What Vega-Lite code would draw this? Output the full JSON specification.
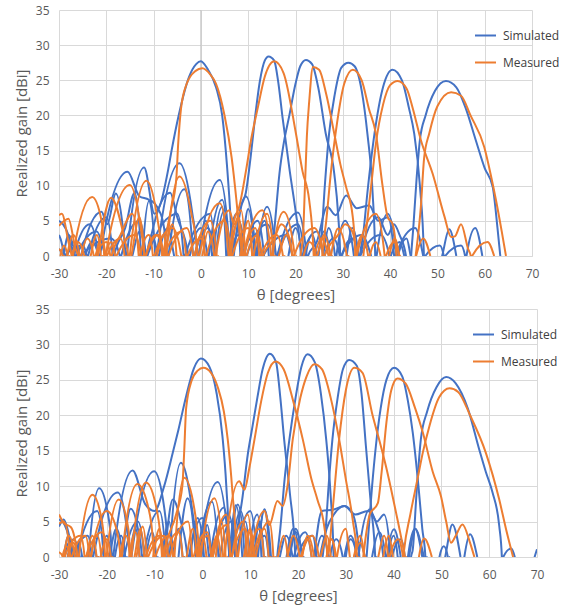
{
"$schema": "https://vega.github.io/schema/vega-lite/v6.json",
"padding": {"left": 14, "top": 4, "right": 5, "bottom": 5},
"config": {"font": "Open Sans", "view": {"stroke": null}},
"spacing": 1,
"resolve": {"scale": {"color": "independent"}, "legend": {"color": "independent"}},
"datasets": {
"tS": [
{"s":1,"x":-30,"y":3},{"s":1,"x":-28.95,"y":0},{"s":1,"x":-28.8,"y":-8},{"s":1,"x":-28.65,"y":0},{"s":1,"x":-26.5,"y":1.2},{"s":1,"x":-25.65,"y":0},{"s":1,"x":-25.5,"y":-8},{"s":1,"x":-25.35,"y":0},{"s":1,"x":-21,"y":6.3},{"s":1,"x":-19.8,"y":4.5},{"s":1,"x":-18,"y":8.9},{"s":1,"x":-16.5,"y":4},{"s":1,"x":-15.95,"y":0},{"s":1,"x":-15.8,"y":-8},{"s":1,"x":-15.65,"y":0},{"s":1,"x":-12,"y":12.6},{"s":1,"x":-9.8,"y":6},{"s":1,"x":-8.5,"y":7.5},{"s":1,"x":-7,"y":12},{"s":1,"x":-6.2,"y":15},{"s":1,"x":-4.7,"y":20},{"s":1,"x":-2.5,"y":25.5},{"s":1,"x":-1,"y":27.3},{"s":1,"x":0,"y":27.7},{"s":1,"x":1.5,"y":26.5},{"s":1,"x":3.2,"y":24},{"s":1,"x":4.5,"y":20},{"s":1,"x":5.5,"y":13},{"s":1,"x":6.3,"y":5},{"s":1,"x":6.65,"y":0},{"s":1,"x":6.8,"y":-8},{"s":1,"x":6.95,"y":0},{"s":1,"x":9.5,"y":8.5},{"s":1,"x":11.65,"y":0},{"s":1,"x":11.8,"y":-8},{"s":1,"x":11.95,"y":0},{"s":1,"x":14,"y":7},{"s":1,"x":15.85,"y":0},{"s":1,"x":16,"y":-8},{"s":1,"x":16.15,"y":0},{"s":1,"x":20.5,"y":6.2},{"s":1,"x":22.35,"y":0},{"s":1,"x":22.5,"y":-8},{"s":1,"x":22.65,"y":0},{"s":1,"x":24.5,"y":2},{"s":1,"x":26.7,"y":7},{"s":1,"x":28.5,"y":5.8},{"s":1,"x":30.7,"y":8.6},{"s":1,"x":33,"y":6.8},{"s":1,"x":35.6,"y":7.2},{"s":1,"x":37.5,"y":5},{"s":1,"x":39.5,"y":5.5},{"s":1,"x":40.85,"y":0},{"s":1,"x":41,"y":-8},{"s":1,"x":41.15,"y":0},{"s":1,"x":45.3,"y":4},{"s":1,"x":47,"y":0},
{"s":2,"x":-30,"y":5},{"s":2,"x":-28.5,"y":3.8},{"s":2,"x":-27.15,"y":0},{"s":2,"x":-27,"y":-8},{"s":2,"x":-26.85,"y":0},{"s":2,"x":-23.5,"y":4.5},{"s":2,"x":-21.65,"y":0},{"s":2,"x":-21.5,"y":-8},{"s":2,"x":-21.35,"y":0},{"s":2,"x":-15.5,"y":12},{"s":2,"x":-13,"y":8.5},{"s":2,"x":-11,"y":8},{"s":2,"x":-9.65,"y":0},{"s":2,"x":-9.5,"y":-8},{"s":2,"x":-9.35,"y":0},{"s":2,"x":-4.5,"y":13.2},{"s":2,"x":-1.8,"y":6},{"s":2,"x":-0.75,"y":0},{"s":2,"x":-0.6,"y":-8},{"s":2,"x":-0.45,"y":0},{"s":2,"x":4,"y":10.8},{"s":2,"x":6.15,"y":0},{"s":2,"x":6.3,"y":-8},{"s":2,"x":6.45,"y":0},{"s":2,"x":7.5,"y":3},{"s":2,"x":8.5,"y":7},{"s":2,"x":9.5,"y":9},{"s":2,"x":10.5,"y":14},{"s":2,"x":11.5,"y":20},{"s":2,"x":12.5,"y":25},{"s":2,"x":13.5,"y":27.8},{"s":2,"x":14.3,"y":28.4},{"s":2,"x":15.5,"y":27.8},{"s":2,"x":16.3,"y":25},{"s":2,"x":17.3,"y":19.5},{"s":2,"x":18.8,"y":12},{"s":2,"x":20.1,"y":6},{"s":2,"x":21.15,"y":0},{"s":2,"x":21.3,"y":-8},{"s":2,"x":21.45,"y":0},{"s":2,"x":24.5,"y":3.5},{"s":2,"x":25.85,"y":0},{"s":2,"x":26,"y":-8},{"s":2,"x":26.15,"y":0},{"s":2,"x":28,"y":2.5},{"s":2,"x":29.35,"y":0},{"s":2,"x":29.5,"y":-8},{"s":2,"x":29.65,"y":0},{"s":2,"x":34,"y":3},{"s":2,"x":36,"y":0},
{"s":3,"x":-30,"y":1},{"s":3,"x":-29.15,"y":0},{"s":3,"x":-29,"y":-8},{"s":3,"x":-28.85,"y":0},{"s":3,"x":-25,"y":1.5},{"s":3,"x":-24.15,"y":0},{"s":3,"x":-24,"y":-8},{"s":3,"x":-23.85,"y":0},{"s":3,"x":-20,"y":5.5},{"s":3,"x":-18.65,"y":0},{"s":3,"x":-18.5,"y":-8},{"s":3,"x":-18.35,"y":0},{"s":3,"x":-16,"y":4},{"s":3,"x":-14,"y":9},{"s":3,"x":-12.65,"y":0},{"s":3,"x":-12.5,"y":-8},{"s":3,"x":-12.35,"y":0},{"s":3,"x":-10.9,"y":7.9},{"s":3,"x":-8.5,"y":6},{"s":3,"x":-7.15,"y":0},{"s":3,"x":-7,"y":-8},{"s":3,"x":-6.85,"y":0},{"s":3,"x":-3.5,"y":9.5},{"s":3,"x":-1.65,"y":0},{"s":3,"x":-1.5,"y":-8},{"s":3,"x":-1.35,"y":0},{"s":3,"x":1.5,"y":4},{"s":3,"x":2.85,"y":0},{"s":3,"x":3,"y":-8},{"s":3,"x":3.15,"y":0},{"s":3,"x":5,"y":6.5},{"s":3,"x":5.85,"y":0},{"s":3,"x":6,"y":-8},{"s":3,"x":6.15,"y":0},{"s":3,"x":8,"y":3},{"s":3,"x":8.85,"y":0},{"s":3,"x":9,"y":-8},{"s":3,"x":9.15,"y":0},{"s":3,"x":12,"y":5},{"s":3,"x":13.35,"y":0},{"s":3,"x":14.2,"y":-8},{"s":3,"x":15.05,"y":0},{"s":3,"x":15.7,"y":5},{"s":3,"x":16.6,"y":11.7},{"s":3,"x":17.5,"y":16},{"s":3,"x":18.7,"y":20},{"s":3,"x":20,"y":24.5},{"s":3,"x":21,"y":27},{"s":3,"x":22.2,"y":27.9},{"s":3,"x":23.5,"y":27.3},{"s":3,"x":24.8,"y":24},{"s":3,"x":26.4,"y":17.4},{"s":3,"x":28.2,"y":11.7},{"s":3,"x":29,"y":6},{"s":3,"x":29.45,"y":0},{"s":3,"x":29.6,"y":-8},{"s":3,"x":29.75,"y":0},{"s":3,"x":32,"y":2.5},{"s":3,"x":33.35,"y":0},{"s":3,"x":33.5,"y":-8},{"s":3,"x":33.65,"y":0},{"s":3,"x":38,"y":3},{"s":3,"x":39.85,"y":0},{"s":3,"x":40,"y":-8},{"s":3,"x":40.15,"y":0},{"s":3,"x":42,"y":2},{"s":3,"x":43,"y":0},
{"s":4,"x":-28.3,"y":0},{"s":4,"x":-27,"y":2},{"s":4,"x":-25.65,"y":0},{"s":4,"x":-25.5,"y":-8},{"s":4,"x":-25.35,"y":0},{"s":4,"x":-19,"y":2.5},{"s":4,"x":-17.15,"y":0},{"s":4,"x":-17,"y":-8},{"s":4,"x":-16.85,"y":0},{"s":4,"x":-13,"y":5},{"s":4,"x":-11.65,"y":0},{"s":4,"x":-11.5,"y":-8},{"s":4,"x":-11.35,"y":0},{"s":4,"x":-6.5,"y":9},{"s":4,"x":-5,"y":5.5},{"s":4,"x":-2.65,"y":0},{"s":4,"x":-2.5,"y":-8},{"s":4,"x":-2.35,"y":0},{"s":4,"x":0,"y":4},{"s":4,"x":1.35,"y":0},{"s":4,"x":1.5,"y":-8},{"s":4,"x":1.65,"y":0},{"s":4,"x":4.5,"y":8},{"s":4,"x":5.85,"y":0},{"s":4,"x":6,"y":-8},{"s":4,"x":6.15,"y":0},{"s":4,"x":8,"y":5},{"s":4,"x":9.35,"y":0},{"s":4,"x":9.5,"y":-8},{"s":4,"x":9.65,"y":0},{"s":4,"x":14,"y":4.5},{"s":4,"x":15.85,"y":0},{"s":4,"x":16,"y":-8},{"s":4,"x":16.15,"y":0},{"s":4,"x":20.5,"y":4.5},{"s":4,"x":21.85,"y":0},{"s":4,"x":22,"y":-8},{"s":4,"x":22.15,"y":0},{"s":4,"x":23.5,"y":3},{"s":4,"x":24.55,"y":0},{"s":4,"x":24.7,"y":-8},{"s":4,"x":24.85,"y":0},{"s":4,"x":25.5,"y":3},{"s":4,"x":26.2,"y":10},{"s":4,"x":27.1,"y":17.4},{"s":4,"x":28.3,"y":23},{"s":4,"x":29.7,"y":26.8},{"s":4,"x":31.2,"y":27.5},{"s":4,"x":32.5,"y":27},{"s":4,"x":34,"y":23.5},{"s":4,"x":35.2,"y":17.4},{"s":4,"x":36.3,"y":9},{"s":4,"x":36.85,"y":0},{"s":4,"x":37,"y":-8},{"s":4,"x":37.15,"y":0},{"s":4,"x":39.5,"y":6},{"s":4,"x":41.35,"y":0},{"s":4,"x":41.5,"y":-8},{"s":4,"x":41.65,"y":0},{"s":4,"x":43.5,"y":2.5},{"s":4,"x":44.35,"y":0},{"s":4,"x":47.8,"y":-8},{"s":4,"x":51,"y":0},{"s":4,"x":52.5,"y":3.8},{"s":4,"x":54,"y":0},
{"s":5,"x":-29,"y":0},{"s":5,"x":-28,"y":3},{"s":5,"x":-26.65,"y":0},{"s":5,"x":-26.5,"y":-8},{"s":5,"x":-26.35,"y":0},{"s":5,"x":-22,"y":3.5},{"s":5,"x":-20.15,"y":0},{"s":5,"x":-15,"y":-8},{"s":5,"x":-11.5,"y":0},{"s":5,"x":-10.5,"y":3},{"s":5,"x":-9.15,"y":0},{"s":5,"x":-9,"y":-8},{"s":5,"x":-8.85,"y":0},{"s":5,"x":-7,"y":4},{"s":5,"x":-5.65,"y":0},{"s":5,"x":-3,"y":-8},{"s":5,"x":-0.5,"y":0},{"s":5,"x":1,"y":5},{"s":5,"x":2.35,"y":0},{"s":5,"x":2.5,"y":-8},{"s":5,"x":2.65,"y":0},{"s":5,"x":4.5,"y":7},{"s":5,"x":5.35,"y":0},{"s":5,"x":5.5,"y":-8},{"s":5,"x":5.65,"y":0},{"s":5,"x":7.5,"y":6},{"s":5,"x":8.35,"y":0},{"s":5,"x":8.5,"y":-8},{"s":5,"x":8.65,"y":0},{"s":5,"x":11.5,"y":3},{"s":5,"x":12.85,"y":0},{"s":5,"x":13,"y":-8},{"s":5,"x":13.15,"y":0},{"s":5,"x":18,"y":3},{"s":5,"x":19.35,"y":0},{"s":5,"x":23,"y":-8},{"s":5,"x":25.8,"y":0},{"s":5,"x":27,"y":4},{"s":5,"x":28.35,"y":0},{"s":5,"x":28.5,"y":-8},{"s":5,"x":28.65,"y":0},{"s":5,"x":30.5,"y":5},{"s":5,"x":32.35,"y":0},{"s":5,"x":33,"y":-8},{"s":5,"x":33.65,"y":0},{"s":5,"x":34.3,"y":3},{"s":5,"x":35.2,"y":9},{"s":5,"x":36.7,"y":17.4},{"s":5,"x":38.5,"y":24},{"s":5,"x":40.5,"y":26.5},{"s":5,"x":42.5,"y":25},{"s":5,"x":44,"y":21},{"s":5,"x":45.1,"y":17.4},{"s":5,"x":46.3,"y":10},{"s":5,"x":47.15,"y":0},{"s":5,"x":47.3,"y":-8},{"s":5,"x":47.45,"y":0},{"s":5,"x":50.5,"y":1.5},{"s":5,"x":51.35,"y":0},{"s":5,"x":51.5,"y":-8},{"s":5,"x":51.65,"y":0},{"s":5,"x":55,"y":1.5},{"s":5,"x":55.85,"y":0},{"s":5,"x":56,"y":-8},{"s":5,"x":56.15,"y":0},{"s":5,"x":58,"y":4},{"s":5,"x":59.5,"y":0},
{"s":6,"x":-24.5,"y":0},{"s":6,"x":-23,"y":2},{"s":6,"x":-21.65,"y":0},{"s":6,"x":-21.5,"y":-8},{"s":6,"x":-21.35,"y":0},{"s":6,"x":-17.5,"y":-8},{"s":6,"x":-14.5,"y":0},{"s":6,"x":-13,"y":3.5},{"s":6,"x":-11.65,"y":0},{"s":6,"x":-11.5,"y":-8},{"s":6,"x":-11.35,"y":0},{"s":6,"x":-5,"y":6},{"s":6,"x":-3.65,"y":0},{"s":6,"x":-3.5,"y":-8},{"s":6,"x":-3.35,"y":0},{"s":6,"x":2,"y":6},{"s":6,"x":2.85,"y":0},{"s":6,"x":3,"y":-8},{"s":6,"x":3.15,"y":0},{"s":6,"x":6,"y":-8},{"s":6,"x":8.5,"y":0},{"s":6,"x":10,"y":6.7},{"s":6,"x":11.35,"y":0},{"s":6,"x":11.5,"y":-8},{"s":6,"x":11.65,"y":0},{"s":6,"x":13.5,"y":5},{"s":6,"x":14.35,"y":0},{"s":6,"x":14.5,"y":-8},{"s":6,"x":14.65,"y":0},{"s":6,"x":17,"y":-8},{"s":6,"x":18.5,"y":0},{"s":6,"x":20,"y":4},{"s":6,"x":21.35,"y":0},{"s":6,"x":21.5,"y":-8},{"s":6,"x":21.65,"y":0},{"s":6,"x":23.5,"y":-8},{"s":6,"x":24.8,"y":0},{"s":6,"x":26,"y":3.5},{"s":6,"x":27.35,"y":0},{"s":6,"x":27.5,"y":-8},{"s":6,"x":27.65,"y":0},{"s":6,"x":29.5,"y":-8},{"s":6,"x":30.8,"y":0},{"s":6,"x":32,"y":4},{"s":6,"x":33.35,"y":0},{"s":6,"x":33.5,"y":-8},{"s":6,"x":33.65,"y":0},{"s":6,"x":37.5,"y":5.5},{"s":6,"x":39.5,"y":3},{"s":6,"x":40.8,"y":4.5},{"s":6,"x":42,"y":3},{"s":6,"x":43.35,"y":0},{"s":6,"x":43.9,"y":-8},{"s":6,"x":44.45,"y":0},{"s":6,"x":44.9,"y":4},{"s":6,"x":45.6,"y":11},{"s":6,"x":46.3,"y":16.5},{"s":6,"x":47.5,"y":20},{"s":6,"x":49.5,"y":23.5},{"s":6,"x":51.8,"y":24.9},{"s":6,"x":54,"y":24},{"s":6,"x":56,"y":21},{"s":6,"x":58.1,"y":16.5},{"s":6,"x":60,"y":12.5},{"s":6,"x":61.7,"y":9.8},{"s":6,"x":62.7,"y":4},{"s":6,"x":63.3,"y":0}
],
"tM": [
{"s":1,"x":-30,"y":4.3},{"s":1,"x":-28,"y":5.3},{"s":1,"x":-26.5,"y":1},{"s":1,"x":-25.95,"y":0},{"s":1,"x":-25.8,"y":-8},{"s":1,"x":-25.65,"y":0},{"s":1,"x":-23.5,"y":-8},{"s":1,"x":-21.8,"y":0},{"s":1,"x":-19,"y":8.3},{"s":1,"x":-16,"y":2},{"s":1,"x":-15.35,"y":0},{"s":1,"x":-15.2,"y":-8},{"s":1,"x":-15.05,"y":0},{"s":1,"x":-11.5,"y":10.7},{"s":1,"x":-9,"y":4.5},{"s":1,"x":-8.15,"y":0},{"s":1,"x":-8,"y":-8},{"s":1,"x":-7.85,"y":0},{"s":1,"x":-6.5,"y":6},{"s":1,"x":-5.2,"y":11},{"s":1,"x":-4.8,"y":16},{"s":1,"x":-4.2,"y":21},{"s":1,"x":-3,"y":24.5},{"s":1,"x":-1.2,"y":26.3},{"s":1,"x":0.3,"y":26.7},{"s":1,"x":2,"y":25.8},{"s":1,"x":3.2,"y":24.5},{"s":1,"x":5,"y":20},{"s":1,"x":6.5,"y":14},{"s":1,"x":7.5,"y":8},{"s":1,"x":8.2,"y":3},{"s":1,"x":8.65,"y":0},{"s":1,"x":8.8,"y":-8},{"s":1,"x":8.95,"y":0},{"s":1,"x":13,"y":6.5},{"s":1,"x":14.85,"y":0},{"s":1,"x":15,"y":-8},{"s":1,"x":15.15,"y":0},{"s":1,"x":17.5,"y":6.3},{"s":1,"x":19.85,"y":0},{"s":1,"x":20,"y":-8},{"s":1,"x":20.15,"y":0},{"s":1,"x":22,"y":-8},{"s":1,"x":24,"y":0},{"s":1,"x":25.5,"y":2.5},{"s":1,"x":27,"y":0},
{"s":2,"x":-30,"y":5.8},{"s":2,"x":-29.4,"y":6},{"s":2,"x":-28,"y":2},{"s":2,"x":-27.35,"y":0},{"s":2,"x":-27.2,"y":-8},{"s":2,"x":-27.05,"y":0},{"s":2,"x":-23,"y":8.4},{"s":2,"x":-21,"y":5},{"s":2,"x":-20.45,"y":0},{"s":2,"x":-20.3,"y":-8},{"s":2,"x":-20.15,"y":0},{"s":2,"x":-15,"y":10.1},{"s":2,"x":-12.5,"y":3},{"s":2,"x":-11.95,"y":0},{"s":2,"x":-11.8,"y":-8},{"s":2,"x":-11.65,"y":0},{"s":2,"x":-9.5,"y":3},{"s":2,"x":-7.65,"y":0},{"s":2,"x":-7.5,"y":-8},{"s":2,"x":-7.35,"y":0},{"s":2,"x":-4.5,"y":11.3},{"s":2,"x":-2,"y":6},{"s":2,"x":-0.65,"y":0},{"s":2,"x":-0.5,"y":-8},{"s":2,"x":-0.35,"y":0},{"s":2,"x":4,"y":7.5},{"s":2,"x":5.85,"y":0},{"s":2,"x":6,"y":-8},{"s":2,"x":6.15,"y":0},{"s":2,"x":7,"y":5},{"s":2,"x":8.1,"y":7},{"s":2,"x":9.5,"y":12},{"s":2,"x":10.6,"y":16.5},{"s":2,"x":12,"y":21},{"s":2,"x":13.5,"y":25.5},{"s":2,"x":15.5,"y":27.7},{"s":2,"x":17.5,"y":26},{"s":2,"x":20.1,"y":17.4},{"s":2,"x":21.5,"y":12},{"s":2,"x":22.9,"y":7.9},{"s":2,"x":23.85,"y":0},{"s":2,"x":24,"y":-8},{"s":2,"x":24.15,"y":0},{"s":2,"x":26,"y":-8},{"s":2,"x":27.5,"y":0},{"s":2,"x":29,"y":3.9},{"s":2,"x":30.85,"y":0},{"s":2,"x":31,"y":-8},{"s":2,"x":31.15,"y":0},{"s":2,"x":34,"y":-8},{"s":2,"x":35.7,"y":0},{"s":2,"x":37,"y":2},{"s":2,"x":38,"y":0},
{"s":3,"x":-30,"y":1},{"s":3,"x":-29.15,"y":0},{"s":3,"x":-29,"y":-8},{"s":3,"x":-28.85,"y":0},{"s":3,"x":-27,"y":-8},{"s":3,"x":-25.3,"y":0},{"s":3,"x":-24,"y":2.5},{"s":3,"x":-22.65,"y":0},{"s":3,"x":-22.5,"y":-8},{"s":3,"x":-22.35,"y":0},{"s":3,"x":-20,"y":2},{"s":3,"x":-19.15,"y":0},{"s":3,"x":-19,"y":-8},{"s":3,"x":-18.85,"y":0},{"s":3,"x":-17,"y":3},{"s":3,"x":-14.5,"y":6},{"s":3,"x":-13.15,"y":0},{"s":3,"x":-13,"y":-8},{"s":3,"x":-12.85,"y":0},{"s":3,"x":-11,"y":3},{"s":3,"x":-10.15,"y":0},{"s":3,"x":-10,"y":-8},{"s":3,"x":-9.85,"y":0},{"s":3,"x":-6,"y":4},{"s":3,"x":-4.15,"y":0},{"s":3,"x":-4,"y":-8},{"s":3,"x":-3.85,"y":0},{"s":3,"x":-1.5,"y":-8},{"s":3,"x":0.3,"y":0},{"s":3,"x":1.5,"y":3.5},{"s":3,"x":2.85,"y":0},{"s":3,"x":3,"y":-8},{"s":3,"x":3.15,"y":0},{"s":3,"x":6,"y":6.5},{"s":3,"x":7,"y":4.5},{"s":3,"x":8.5,"y":6.5},{"s":3,"x":9.35,"y":0},{"s":3,"x":9.5,"y":-8},{"s":3,"x":9.65,"y":0},{"s":3,"x":12,"y":3},{"s":3,"x":12.85,"y":0},{"s":3,"x":13,"y":-8},{"s":3,"x":13.15,"y":0},{"s":3,"x":15.5,"y":2.5},{"s":3,"x":17,"y":4.5},{"s":3,"x":18.5,"y":3},{"s":3,"x":19.35,"y":0},{"s":3,"x":20.2,"y":-8},{"s":3,"x":21.05,"y":0},{"s":3,"x":21.6,"y":3},{"s":3,"x":22,"y":10},{"s":3,"x":22.4,"y":17},{"s":3,"x":22.9,"y":22},{"s":3,"x":23.7,"y":26.9},{"s":3,"x":25,"y":26.5},{"s":3,"x":26.5,"y":23},{"s":3,"x":28.2,"y":17.4},{"s":3,"x":29.5,"y":13},{"s":3,"x":30.7,"y":9.8},{"s":3,"x":32.1,"y":5.6},{"s":3,"x":32.65,"y":0},{"s":3,"x":32.8,"y":-8},{"s":3,"x":32.95,"y":0},{"s":3,"x":37,"y":6},{"s":3,"x":38.85,"y":0},{"s":3,"x":39,"y":-8},{"s":3,"x":39.15,"y":0},{"s":3,"x":41,"y":2},{"s":3,"x":42,"y":0},
{"s":4,"x":-28.3,"y":0},{"s":4,"x":-27,"y":3},{"s":4,"x":-25.65,"y":0},{"s":4,"x":-25.5,"y":-8},{"s":4,"x":-25.35,"y":0},{"s":4,"x":-23.5,"y":-8},{"s":4,"x":-22.2,"y":0},{"s":4,"x":-21,"y":2.5},{"s":4,"x":-20.15,"y":0},{"s":4,"x":-20,"y":-8},{"s":4,"x":-19.85,"y":0},{"s":4,"x":-17,"y":2.5},{"s":4,"x":-16.15,"y":0},{"s":4,"x":-16,"y":-8},{"s":4,"x":-15.85,"y":0},{"s":4,"x":-12,"y":-8},{"s":4,"x":-9.3,"y":0},{"s":4,"x":-8,"y":3},{"s":4,"x":-7.15,"y":0},{"s":4,"x":-7,"y":-8},{"s":4,"x":-6.85,"y":0},{"s":4,"x":-3,"y":4},{"s":4,"x":-1.65,"y":0},{"s":4,"x":-1.5,"y":-8},{"s":4,"x":-1.35,"y":0},{"s":4,"x":2,"y":5},{"s":4,"x":3.35,"y":0},{"s":4,"x":3.5,"y":-8},{"s":4,"x":3.65,"y":0},{"s":4,"x":5,"y":-8},{"s":4,"x":6.3,"y":0},{"s":4,"x":8,"y":5.5},{"s":4,"x":8.85,"y":0},{"s":4,"x":9,"y":-8},{"s":4,"x":9.15,"y":0},{"s":4,"x":11.5,"y":4},{"s":4,"x":12.35,"y":0},{"s":4,"x":12.5,"y":-8},{"s":4,"x":12.65,"y":0},{"s":4,"x":16,"y":3},{"s":4,"x":17.35,"y":0},{"s":4,"x":17.5,"y":-8},{"s":4,"x":17.65,"y":0},{"s":4,"x":20,"y":-8},{"s":4,"x":21.7,"y":0},{"s":4,"x":23,"y":2},{"s":4,"x":24.35,"y":0},{"s":4,"x":25,"y":-8},{"s":4,"x":25.65,"y":0},{"s":4,"x":26.5,"y":5},{"s":4,"x":27.5,"y":12},{"s":4,"x":28.8,"y":19},{"s":4,"x":30.3,"y":24.5},{"s":4,"x":32.1,"y":26.5},{"s":4,"x":34,"y":25},{"s":4,"x":35.5,"y":21},{"s":4,"x":37,"y":17.4},{"s":4,"x":38.4,"y":10},{"s":4,"x":39.5,"y":5.5},{"s":4,"x":40.5,"y":4.6},{"s":4,"x":41.35,"y":0},{"s":4,"x":41.5,"y":-8},{"s":4,"x":41.65,"y":0},{"s":4,"x":43.5,"y":-8},{"s":4,"x":45.5,"y":0},{"s":4,"x":47,"y":2.5},{"s":4,"x":48.5,"y":0},
{"s":5,"x":-27.3,"y":0},{"s":5,"x":-26,"y":2},{"s":5,"x":-24.65,"y":0},{"s":5,"x":-24.5,"y":-8},{"s":5,"x":-24.35,"y":0},{"s":5,"x":-22,"y":-8},{"s":5,"x":-20.2,"y":0},{"s":5,"x":-19,"y":2},{"s":5,"x":-18.15,"y":0},{"s":5,"x":-18,"y":-8},{"s":5,"x":-17.85,"y":0},{"s":5,"x":-14,"y":3},{"s":5,"x":-12.65,"y":0},{"s":5,"x":-12.5,"y":-8},{"s":5,"x":-12.35,"y":0},{"s":5,"x":-10,"y":-8},{"s":5,"x":-7.7,"y":0},{"s":5,"x":-6,"y":4.5},{"s":5,"x":-5.15,"y":0},{"s":5,"x":-5,"y":-8},{"s":5,"x":-4.85,"y":0},{"s":5,"x":-3,"y":-8},{"s":5,"x":-1.3,"y":0},{"s":5,"x":0,"y":3},{"s":5,"x":0.85,"y":0},{"s":5,"x":1,"y":-8},{"s":5,"x":1.15,"y":0},{"s":5,"x":5,"y":5},{"s":5,"x":6.35,"y":0},{"s":5,"x":6.5,"y":-8},{"s":5,"x":6.65,"y":0},{"s":5,"x":10,"y":4},{"s":5,"x":10.85,"y":0},{"s":5,"x":11,"y":-8},{"s":5,"x":11.15,"y":0},{"s":5,"x":14,"y":-8},{"s":5,"x":16.5,"y":0},{"s":5,"x":18,"y":3},{"s":5,"x":19.35,"y":0},{"s":5,"x":19.5,"y":-8},{"s":5,"x":19.65,"y":0},{"s":5,"x":24,"y":4},{"s":5,"x":25.85,"y":0},{"s":5,"x":26,"y":-8},{"s":5,"x":26.15,"y":0},{"s":5,"x":29,"y":3},{"s":5,"x":30.5,"y":4.5},{"s":5,"x":32,"y":3.5},{"s":5,"x":32.85,"y":0},{"s":5,"x":33.6,"y":-8},{"s":5,"x":34.35,"y":0},{"s":5,"x":35,"y":4},{"s":5,"x":36,"y":10},{"s":5,"x":37,"y":16},{"s":5,"x":38.5,"y":21.5},{"s":5,"x":40,"y":24.3},{"s":5,"x":41.6,"y":24.9},{"s":5,"x":43.5,"y":23.8},{"s":5,"x":44.8,"y":21},{"s":5,"x":46.5,"y":16.5},{"s":5,"x":49,"y":11.7},{"s":5,"x":51.5,"y":5.6},{"s":5,"x":52.9,"y":2.7},{"s":5,"x":53.7,"y":2.8},{"s":5,"x":55,"y":4.5},{"s":5,"x":56.5,"y":1},{"s":5,"x":57.05,"y":0},{"s":5,"x":57.2,"y":-8},{"s":5,"x":57.35,"y":0},{"s":5,"x":60.6,"y":2},{"s":5,"x":62,"y":0},
{"s":6,"x":-29.7,"y":0},{"s":6,"x":-29,"y":1.5},{"s":6,"x":-28.15,"y":0},{"s":6,"x":-28,"y":-8},{"s":6,"x":-27.85,"y":0},{"s":6,"x":-25,"y":-8},{"s":6,"x":-23.3,"y":0},{"s":6,"x":-22,"y":3},{"s":6,"x":-21.15,"y":0},{"s":6,"x":-21,"y":-8},{"s":6,"x":-20.85,"y":0},{"s":6,"x":-17,"y":-8},{"s":6,"x":-14.7,"y":0},{"s":6,"x":-13,"y":5.5},{"s":6,"x":-11.95,"y":0},{"s":6,"x":-11.8,"y":-8},{"s":6,"x":-11.65,"y":0},{"s":6,"x":-9,"y":3},{"s":6,"x":-8.15,"y":0},{"s":6,"x":-8,"y":-8},{"s":6,"x":-7.85,"y":0},{"s":6,"x":-4,"y":3.5},{"s":6,"x":-3.15,"y":0},{"s":6,"x":-3,"y":-8},{"s":6,"x":-2.85,"y":0},{"s":6,"x":0,"y":2.5},{"s":6,"x":0.85,"y":0},{"s":6,"x":1,"y":-8},{"s":6,"x":1.15,"y":0},{"s":6,"x":5,"y":-8},{"s":6,"x":8.3,"y":0},{"s":6,"x":10,"y":5},{"s":6,"x":10.85,"y":0},{"s":6,"x":11,"y":-8},{"s":6,"x":11.15,"y":0},{"s":6,"x":14,"y":6},{"s":6,"x":15.35,"y":0},{"s":6,"x":15.5,"y":-8},{"s":6,"x":15.65,"y":0},{"s":6,"x":20,"y":-8},{"s":6,"x":24.6,"y":0},{"s":6,"x":26,"y":3},{"s":6,"x":27.35,"y":0},{"s":6,"x":27.5,"y":-8},{"s":6,"x":27.65,"y":0},{"s":6,"x":30,"y":-8},{"s":6,"x":32.6,"y":0},{"s":6,"x":34,"y":3},{"s":6,"x":35.35,"y":0},{"s":6,"x":35.5,"y":-8},{"s":6,"x":35.65,"y":0},{"s":6,"x":38,"y":-8},{"s":6,"x":39.8,"y":0},{"s":6,"x":41,"y":2.5},{"s":6,"x":41.85,"y":0},{"s":6,"x":42,"y":-8},{"s":6,"x":42.15,"y":0},{"s":6,"x":43.5,"y":-8},{"s":6,"x":45.4,"y":0},{"s":6,"x":46.5,"y":7},{"s":6,"x":47.2,"y":14},{"s":6,"x":48.3,"y":17.5},{"s":6,"x":50,"y":21.3},{"s":6,"x":52.9,"y":23.3},{"s":6,"x":55,"y":22.8},{"s":6,"x":57,"y":20},{"s":6,"x":59.9,"y":15.5},{"s":6,"x":61.3,"y":11.5},{"s":6,"x":62.4,"y":7.9},{"s":6,"x":63.6,"y":3.5},{"s":6,"x":64.5,"y":0}
],
"bS": [
{"s":1,"x":-30,"y":4.3},{"s":1,"x":-29,"y":5.3},{"s":1,"x":-27.5,"y":2},{"s":1,"x":-26.65,"y":0},{"s":1,"x":-26.5,"y":-8},{"s":1,"x":-26.35,"y":0},{"s":1,"x":-24.5,"y":-8},{"s":1,"x":-23.8,"y":0},{"s":1,"x":-21.6,"y":9.7},{"s":1,"x":-19.5,"y":5},{"s":1,"x":-18.95,"y":0},{"s":1,"x":-18.8,"y":-8},{"s":1,"x":-18.65,"y":0},{"s":1,"x":-14.6,"y":12.2},{"s":1,"x":-12,"y":7.5},{"s":1,"x":-10,"y":6.5},{"s":1,"x":-8,"y":10},{"s":1,"x":-6.2,"y":14.7},{"s":1,"x":-5,"y":18},{"s":1,"x":-3.4,"y":22.7},{"s":1,"x":-1.8,"y":26.6},{"s":1,"x":-0.3,"y":28},{"s":1,"x":1.5,"y":26.8},{"s":1,"x":3,"y":23},{"s":1,"x":4.2,"y":17},{"s":1,"x":5,"y":10},{"s":1,"x":5.65,"y":0},{"s":1,"x":5.8,"y":-8},{"s":1,"x":5.95,"y":0},{"s":1,"x":7.4,"y":7.4},{"s":1,"x":8.85,"y":0},{"s":1,"x":9,"y":-8},{"s":1,"x":9.15,"y":0},{"s":1,"x":10.5,"y":-8},{"s":1,"x":11.5,"y":0},{"s":1,"x":13,"y":6.7},{"s":1,"x":14.35,"y":0},{"s":1,"x":14.5,"y":-8},{"s":1,"x":14.65,"y":0},{"s":1,"x":17,"y":-8},{"s":1,"x":18.3,"y":0},{"s":1,"x":19.6,"y":3.5},{"s":1,"x":20.85,"y":0},{"s":1,"x":21,"y":-8},{"s":1,"x":21.15,"y":0},{"s":1,"x":22.3,"y":-8},{"s":1,"x":23.4,"y":0},{"s":1,"x":25,"y":6.5},{"s":1,"x":27.5,"y":6.7},{"s":1,"x":29.7,"y":7.2},{"s":1,"x":32,"y":6},{"s":1,"x":34.6,"y":6.5},{"s":1,"x":36.5,"y":4.5},{"s":1,"x":37.85,"y":0},{"s":1,"x":38,"y":-8},{"s":1,"x":38.15,"y":0},{"s":1,"x":41,"y":-8},{"s":1,"x":43.2,"y":0},{"s":1,"x":44.5,"y":4},{"s":1,"x":46,"y":0},
{"s":2,"x":-30,"y":5.3},{"s":2,"x":-28.8,"y":4.5},{"s":2,"x":-27.35,"y":0},{"s":2,"x":-27.2,"y":-8},{"s":2,"x":-27.05,"y":0},{"s":2,"x":-24,"y":3},{"s":2,"x":-23.15,"y":0},{"s":2,"x":-23,"y":-8},{"s":2,"x":-22.85,"y":0},{"s":2,"x":-17.7,"y":9.1},{"s":2,"x":-16,"y":5},{"s":2,"x":-15.15,"y":0},{"s":2,"x":-15,"y":-8},{"s":2,"x":-14.85,"y":0},{"s":2,"x":-10.1,"y":12.1},{"s":2,"x":-8,"y":7},{"s":2,"x":-7.15,"y":0},{"s":2,"x":-7,"y":-8},{"s":2,"x":-6.85,"y":0},{"s":2,"x":-4.5,"y":13.3},{"s":2,"x":-2,"y":6},{"s":2,"x":-0.95,"y":0},{"s":2,"x":-0.8,"y":-8},{"s":2,"x":-0.65,"y":0},{"s":2,"x":3.2,"y":10.6},{"s":2,"x":5.65,"y":0},{"s":2,"x":5.8,"y":-8},{"s":2,"x":5.95,"y":0},{"s":2,"x":7.3,"y":4},{"s":2,"x":8.3,"y":8},{"s":2,"x":9.5,"y":14.5},{"s":2,"x":10.5,"y":18.5},{"s":2,"x":11.5,"y":22.5},{"s":2,"x":12.6,"y":26.5},{"s":2,"x":14.1,"y":28.7},{"s":2,"x":15.4,"y":27.5},{"s":2,"x":16.3,"y":22.5},{"s":2,"x":17.1,"y":16.6},{"s":2,"x":18.3,"y":9},{"s":2,"x":19.45,"y":0},{"s":2,"x":19.6,"y":-8},{"s":2,"x":19.75,"y":0},{"s":2,"x":23,"y":3},{"s":2,"x":23.85,"y":0},{"s":2,"x":24,"y":-8},{"s":2,"x":24.15,"y":0},{"s":2,"x":25.5,"y":-8},{"s":2,"x":26.7,"y":0},{"s":2,"x":28,"y":2.5},{"s":2,"x":29.35,"y":0},{"s":2,"x":29.5,"y":-8},{"s":2,"x":29.65,"y":0},{"s":2,"x":31,"y":-8},{"s":2,"x":31.9,"y":0},{"s":2,"x":33,"y":2},{"s":2,"x":34,"y":0},
{"s":3,"x":-28.8,"y":0},{"s":3,"x":-28,"y":2},{"s":3,"x":-26.65,"y":0},{"s":3,"x":-26.5,"y":-8},{"s":3,"x":-26.35,"y":0},{"s":3,"x":-22,"y":6.5},{"s":3,"x":-20.65,"y":0},{"s":3,"x":-20.5,"y":-8},{"s":3,"x":-20.35,"y":0},{"s":3,"x":-18.5,"y":-8},{"s":3,"x":-16.8,"y":0},{"s":3,"x":-15,"y":6.8},{"s":3,"x":-13.5,"y":4},{"s":3,"x":-12.65,"y":0},{"s":3,"x":-12.5,"y":-8},{"s":3,"x":-12.35,"y":0},{"s":3,"x":-9,"y":6.5},{"s":3,"x":-7.65,"y":0},{"s":3,"x":-7.5,"y":-8},{"s":3,"x":-7.35,"y":0},{"s":3,"x":-6,"y":-8},{"s":3,"x":-5,"y":0},{"s":3,"x":-3.1,"y":8.3},{"s":3,"x":-1.35,"y":0},{"s":3,"x":-1.2,"y":-8},{"s":3,"x":-1.05,"y":0},{"s":3,"x":2,"y":7.8},{"s":3,"x":3.35,"y":0},{"s":3,"x":3.5,"y":-8},{"s":3,"x":3.65,"y":0},{"s":3,"x":6,"y":5},{"s":3,"x":6.85,"y":0},{"s":3,"x":7,"y":-8},{"s":3,"x":7.15,"y":0},{"s":3,"x":10,"y":6.5},{"s":3,"x":11.35,"y":0},{"s":3,"x":11.5,"y":-8},{"s":3,"x":11.65,"y":0},{"s":3,"x":13,"y":6.7},{"s":3,"x":14.15,"y":0},{"s":3,"x":14.9,"y":-8},{"s":3,"x":15.65,"y":0},{"s":3,"x":16.3,"y":4},{"s":3,"x":17.2,"y":11},{"s":3,"x":18.2,"y":16.6},{"s":3,"x":19.5,"y":22.5},{"s":3,"x":20.7,"y":26.8},{"s":3,"x":22,"y":28.6},{"s":3,"x":23.5,"y":27.5},{"s":3,"x":24.8,"y":23},{"s":3,"x":25.9,"y":16.6},{"s":3,"x":26.8,"y":9},{"s":3,"x":27.45,"y":0},{"s":3,"x":27.6,"y":-8},{"s":3,"x":27.75,"y":0},{"s":3,"x":29,"y":-8},{"s":3,"x":30,"y":0},{"s":3,"x":31,"y":2.5},{"s":3,"x":32.35,"y":0},{"s":3,"x":32.5,"y":-8},{"s":3,"x":32.65,"y":0},{"s":3,"x":34,"y":-8},{"s":3,"x":35.5,"y":0},{"s":3,"x":37,"y":3.5},{"s":3,"x":38.35,"y":0},{"s":3,"x":38.5,"y":-8},{"s":3,"x":38.65,"y":0},{"s":3,"x":40.1,"y":3.9},{"s":3,"x":41.5,"y":0},
{"s":4,"x":-28.2,"y":0},{"s":4,"x":-27,"y":2.5},{"s":4,"x":-25.65,"y":0},{"s":4,"x":-25.5,"y":-8},{"s":4,"x":-25.35,"y":0},{"s":4,"x":-22,"y":-8},{"s":4,"x":-19.5,"y":0},{"s":4,"x":-18,"y":4},{"s":4,"x":-16.65,"y":0},{"s":4,"x":-16.5,"y":-8},{"s":4,"x":-16.35,"y":0},{"s":4,"x":-13.5,"y":5},{"s":4,"x":-12.15,"y":0},{"s":4,"x":-12,"y":-8},{"s":4,"x":-11.85,"y":0},{"s":4,"x":-9.5,"y":-8},{"s":4,"x":-8,"y":0},{"s":4,"x":-6.2,"y":8.1},{"s":4,"x":-4.5,"y":5},{"s":4,"x":-3.15,"y":0},{"s":4,"x":-3,"y":-8},{"s":4,"x":-2.85,"y":0},{"s":4,"x":0,"y":5.5},{"s":4,"x":1.35,"y":0},{"s":4,"x":1.5,"y":-8},{"s":4,"x":1.65,"y":0},{"s":4,"x":4.5,"y":7},{"s":4,"x":5.85,"y":0},{"s":4,"x":6,"y":-8},{"s":4,"x":6.15,"y":0},{"s":4,"x":8,"y":6.5},{"s":4,"x":9.35,"y":0},{"s":4,"x":9.5,"y":-8},{"s":4,"x":9.65,"y":0},{"s":4,"x":11.5,"y":6},{"s":4,"x":12.35,"y":0},{"s":4,"x":12.5,"y":-8},{"s":4,"x":12.65,"y":0},{"s":4,"x":14.5,"y":-8},{"s":4,"x":16.2,"y":0},{"s":4,"x":17.5,"y":3},{"s":4,"x":18.85,"y":0},{"s":4,"x":19,"y":-8},{"s":4,"x":19.15,"y":0},{"s":4,"x":21.5,"y":3.5},{"s":4,"x":22.85,"y":0},{"s":4,"x":24,"y":-8},{"s":4,"x":25.15,"y":0},{"s":4,"x":25.8,"y":4},{"s":4,"x":26.4,"y":10},{"s":4,"x":27.2,"y":16.6},{"s":4,"x":28.3,"y":22.5},{"s":4,"x":29.4,"y":26.5},{"s":4,"x":30.7,"y":27.8},{"s":4,"x":32.3,"y":27},{"s":4,"x":33.3,"y":23},{"s":4,"x":34.2,"y":15.7},{"s":4,"x":35.3,"y":7},{"s":4,"x":36.15,"y":0},{"s":4,"x":36.3,"y":-8},{"s":4,"x":36.45,"y":0},{"s":4,"x":37.5,"y":-8},{"s":4,"x":38.8,"y":0},{"s":4,"x":40,"y":3},{"s":4,"x":40.85,"y":0},{"s":4,"x":41,"y":-8},{"s":4,"x":41.15,"y":0},{"s":4,"x":42,"y":-8},{"s":4,"x":43,"y":0},{"s":4,"x":44.5,"y":4},{"s":4,"x":46.35,"y":0},{"s":4,"x":48.5,"y":-8},{"s":4,"x":50.8,"y":0},{"s":4,"x":52.3,"y":4.6},{"s":4,"x":54,"y":0},
{"s":5,"x":-29,"y":0},{"s":5,"x":-28,"y":3},{"s":5,"x":-27.15,"y":0},{"s":5,"x":-27,"y":-8},{"s":5,"x":-26.85,"y":0},{"s":5,"x":-25,"y":-8},{"s":5,"x":-24.2,"y":0},{"s":5,"x":-23,"y":2},{"s":5,"x":-22.15,"y":0},{"s":5,"x":-22,"y":-8},{"s":5,"x":-21.85,"y":0},{"s":5,"x":-19.5,"y":-8},{"s":5,"x":-18.3,"y":0},{"s":5,"x":-17,"y":3},{"s":5,"x":-16.15,"y":0},{"s":5,"x":-16,"y":-8},{"s":5,"x":-15.85,"y":0},{"s":5,"x":-13,"y":-8},{"s":5,"x":-11.8,"y":0},{"s":5,"x":-10.5,"y":3.5},{"s":5,"x":-9.65,"y":0},{"s":5,"x":-9.5,"y":-8},{"s":5,"x":-9.35,"y":0},{"s":5,"x":-7.5,"y":-8},{"s":5,"x":-6.2,"y":0},{"s":5,"x":-5,"y":4},{"s":5,"x":-4.15,"y":0},{"s":5,"x":-4,"y":-8},{"s":5,"x":-3.85,"y":0},{"s":5,"x":-1.5,"y":-8},{"s":5,"x":-0.2,"y":0},{"s":5,"x":1,"y":4.5},{"s":5,"x":1.85,"y":0},{"s":5,"x":2,"y":-8},{"s":5,"x":2.15,"y":0},{"s":5,"x":5.5,"y":6},{"s":5,"x":6.85,"y":0},{"s":5,"x":7,"y":-8},{"s":5,"x":7.15,"y":0},{"s":5,"x":9,"y":5},{"s":5,"x":9.85,"y":0},{"s":5,"x":10,"y":-8},{"s":5,"x":10.15,"y":0},{"s":5,"x":13,"y":3},{"s":5,"x":13.85,"y":0},{"s":5,"x":14,"y":-8},{"s":5,"x":14.15,"y":0},{"s":5,"x":16.5,"y":-8},{"s":5,"x":18.2,"y":0},{"s":5,"x":19.5,"y":4},{"s":5,"x":20.85,"y":0},{"s":5,"x":21,"y":-8},{"s":5,"x":21.15,"y":0},{"s":5,"x":23,"y":-8},{"s":5,"x":24.6,"y":0},{"s":5,"x":26,"y":4},{"s":5,"x":27.5,"y":6},{"s":5,"x":29.7,"y":7.2},{"s":5,"x":31.5,"y":6},{"s":5,"x":32.85,"y":0},{"s":5,"x":33.6,"y":-8},{"s":5,"x":34.35,"y":0},{"s":5,"x":34.8,"y":4},{"s":5,"x":35.5,"y":10},{"s":5,"x":36.3,"y":15.7},{"s":5,"x":37.3,"y":21},{"s":5,"x":38.5,"y":25},{"s":5,"x":40.1,"y":26.7},{"s":5,"x":41.8,"y":25.5},{"s":5,"x":43,"y":22},{"s":5,"x":44,"y":17.6},{"s":5,"x":45.2,"y":10},{"s":5,"x":46,"y":4},{"s":5,"x":46.65,"y":0},{"s":5,"x":46.8,"y":-8},{"s":5,"x":46.95,"y":0},{"s":5,"x":48.5,"y":-8},{"s":5,"x":49.6,"y":0},{"s":5,"x":50.5,"y":1.5},{"s":5,"x":51.35,"y":0},{"s":5,"x":51.5,"y":-8},{"s":5,"x":51.65,"y":0},{"s":5,"x":53.5,"y":-8},{"s":5,"x":54.8,"y":0},{"s":5,"x":56,"y":3.2},{"s":5,"x":57.5,"y":0},
{"s":6,"x":-27,"y":0},{"s":6,"x":-26,"y":2},{"s":6,"x":-25.15,"y":0},{"s":6,"x":-25,"y":-8},{"s":6,"x":-24.85,"y":0},{"s":6,"x":-22.5,"y":-8},{"s":6,"x":-21.2,"y":0},{"s":6,"x":-20,"y":3},{"s":6,"x":-19.15,"y":0},{"s":6,"x":-19,"y":-8},{"s":6,"x":-18.85,"y":0},{"s":6,"x":-16.5,"y":-8},{"s":6,"x":-15.2,"y":0},{"s":6,"x":-14,"y":4},{"s":6,"x":-13.15,"y":0},{"s":6,"x":-13,"y":-8},{"s":6,"x":-12.85,"y":0},{"s":6,"x":-10,"y":-8},{"s":6,"x":-8.5,"y":0},{"s":6,"x":-7,"y":5},{"s":6,"x":-6.15,"y":0},{"s":6,"x":-6,"y":-8},{"s":6,"x":-5.85,"y":0},{"s":6,"x":-4,"y":-8},{"s":6,"x":-2.6,"y":0},{"s":6,"x":-1,"y":5.5},{"s":6,"x":0.35,"y":0},{"s":6,"x":0.5,"y":-8},{"s":6,"x":0.65,"y":0},{"s":6,"x":3,"y":-8},{"s":6,"x":5.5,"y":0},{"s":6,"x":7,"y":7.3},{"s":6,"x":8.35,"y":0},{"s":6,"x":8.5,"y":-8},{"s":6,"x":8.65,"y":0},{"s":6,"x":9.8,"y":-8},{"s":6,"x":10.8,"y":0},{"s":6,"x":12,"y":5},{"s":6,"x":12.85,"y":0},{"s":6,"x":13,"y":-8},{"s":6,"x":13.15,"y":0},{"s":6,"x":16,"y":-8},{"s":6,"x":17.6,"y":0},{"s":6,"x":19,"y":4},{"s":6,"x":20.35,"y":0},{"s":6,"x":20.5,"y":-8},{"s":6,"x":20.65,"y":0},{"s":6,"x":22.3,"y":-8},{"s":6,"x":23.7,"y":0},{"s":6,"x":25,"y":3},{"s":6,"x":26.35,"y":0},{"s":6,"x":26.5,"y":-8},{"s":6,"x":26.65,"y":0},{"s":6,"x":28.3,"y":-8},{"s":6,"x":29.7,"y":0},{"s":6,"x":31,"y":3},{"s":6,"x":32.35,"y":0},{"s":6,"x":32.5,"y":-8},{"s":6,"x":32.65,"y":0},{"s":6,"x":35,"y":6.7},{"s":6,"x":36.5,"y":5},{"s":6,"x":38,"y":6},{"s":6,"x":39.35,"y":0},{"s":6,"x":39.5,"y":-8},{"s":6,"x":39.65,"y":0},{"s":6,"x":41.5,"y":2.5},{"s":6,"x":42.35,"y":0},{"s":6,"x":43,"y":-8},{"s":6,"x":43.65,"y":0},{"s":6,"x":44,"y":1},{"s":6,"x":44.8,"y":9},{"s":6,"x":45.7,"y":16.6},{"s":6,"x":47,"y":20.5},{"s":6,"x":49,"y":24},{"s":6,"x":51,"y":25.4},{"s":6,"x":53,"y":24.5},{"s":6,"x":55.5,"y":21},{"s":6,"x":57.9,"y":15.2},{"s":6,"x":59.3,"y":12},{"s":6,"x":60.7,"y":9.1},{"s":6,"x":62.1,"y":4.4},{"s":6,"x":62.65,"y":0},{"s":6,"x":62.8,"y":-8},{"s":6,"x":62.95,"y":0},{"s":6,"x":64.6,"y":1.2},{"s":6,"x":65.35,"y":0},{"s":6,"x":67,"y":-8},{"s":6,"x":69.5,"y":0},{"s":6,"x":70,"y":1.1}
],
"bM": [
{"s":1,"x":-30,"y":6},{"s":1,"x":-29,"y":4.8},{"s":1,"x":-27.5,"y":4.2},{"s":1,"x":-26.15,"y":0},{"s":1,"x":-26,"y":-8},{"s":1,"x":-25.85,"y":0},{"s":1,"x":-23,"y":8.8},{"s":1,"x":-21,"y":5},{"s":1,"x":-20.35,"y":0},{"s":1,"x":-20.2,"y":-8},{"s":1,"x":-20.05,"y":0},{"s":1,"x":-17.5,"y":8.1},{"s":1,"x":-15.5,"y":4},{"s":1,"x":-15.15,"y":0},{"s":1,"x":-15,"y":-8},{"s":1,"x":-14.85,"y":0},{"s":1,"x":-11.8,"y":10.5},{"s":1,"x":-9.5,"y":6.5},{"s":1,"x":-8.45,"y":0},{"s":1,"x":-8.3,"y":-8},{"s":1,"x":-8.15,"y":0},{"s":1,"x":-5.5,"y":6},{"s":1,"x":-4.2,"y":10},{"s":1,"x":-3.8,"y":15},{"s":1,"x":-3.4,"y":21},{"s":1,"x":-2.3,"y":24.8},{"s":1,"x":-1,"y":26.3},{"s":1,"x":0.2,"y":26.7},{"s":1,"x":1.8,"y":26},{"s":1,"x":3.2,"y":24},{"s":1,"x":4.5,"y":20.5},{"s":1,"x":5.3,"y":16.6},{"s":1,"x":6.3,"y":9},{"s":1,"x":7.15,"y":0},{"s":1,"x":7.3,"y":-8},{"s":1,"x":7.45,"y":0},{"s":1,"x":9.5,"y":6},{"s":1,"x":10.35,"y":0},{"s":1,"x":10.5,"y":-8},{"s":1,"x":10.65,"y":0},{"s":1,"x":13,"y":4},{"s":1,"x":13.85,"y":0},{"s":1,"x":14,"y":-8},{"s":1,"x":14.15,"y":0},{"s":1,"x":18,"y":-8},{"s":1,"x":20.7,"y":0},{"s":1,"x":22,"y":3},{"s":1,"x":23.35,"y":0},{"s":1,"x":23.5,"y":-8},{"s":1,"x":23.65,"y":0},{"s":1,"x":25,"y":-8},{"s":1,"x":26,"y":0},{"s":1,"x":27,"y":2.5},{"s":1,"x":28,"y":0},
{"s":2,"x":-30,"y":4.7},{"s":2,"x":-29,"y":5},{"s":2,"x":-27.65,"y":0},{"s":2,"x":-27.5,"y":-8},{"s":2,"x":-27.35,"y":0},{"s":2,"x":-24.5,"y":3},{"s":2,"x":-23.65,"y":0},{"s":2,"x":-23.5,"y":-8},{"s":2,"x":-23.35,"y":0},{"s":2,"x":-20,"y":6.5},{"s":2,"x":-18,"y":4},{"s":2,"x":-17.15,"y":0},{"s":2,"x":-17,"y":-8},{"s":2,"x":-16.85,"y":0},{"s":2,"x":-13.6,"y":10.3},{"s":2,"x":-11,"y":6},{"s":2,"x":-10.15,"y":0},{"s":2,"x":-10,"y":-8},{"s":2,"x":-9.85,"y":0},{"s":2,"x":-7,"y":3},{"s":2,"x":-6.15,"y":0},{"s":2,"x":-6,"y":-8},{"s":2,"x":-5.85,"y":0},{"s":2,"x":-3.8,"y":11.2},{"s":2,"x":-1.5,"y":6},{"s":2,"x":-0.65,"y":0},{"s":2,"x":-0.5,"y":-8},{"s":2,"x":-0.35,"y":0},{"s":2,"x":2.5,"y":8.3},{"s":2,"x":4.35,"y":0},{"s":2,"x":4.5,"y":-8},{"s":2,"x":4.65,"y":0},{"s":2,"x":7.7,"y":10.7},{"s":2,"x":8.8,"y":9.5},{"s":2,"x":9.8,"y":12.5},{"s":2,"x":10.9,"y":16.6},{"s":2,"x":12.3,"y":22},{"s":2,"x":13.7,"y":26},{"s":2,"x":15.3,"y":27.6},{"s":2,"x":17,"y":26.5},{"s":2,"x":19,"y":22},{"s":2,"x":21,"y":16.6},{"s":2,"x":22.8,"y":11},{"s":2,"x":24.1,"y":8},{"s":2,"x":25.5,"y":4.3},{"s":2,"x":26.15,"y":0},{"s":2,"x":26.3,"y":-8},{"s":2,"x":26.45,"y":0},{"s":2,"x":29.5,"y":-8},{"s":2,"x":31.7,"y":0},{"s":2,"x":33,"y":2},{"s":2,"x":34,"y":0},
{"s":3,"x":-30,"y":0.7},{"s":3,"x":-29.15,"y":0},{"s":3,"x":-29,"y":-8},{"s":3,"x":-28.85,"y":0},{"s":3,"x":-25.5,"y":3},{"s":3,"x":-24.65,"y":0},{"s":3,"x":-24.5,"y":-8},{"s":3,"x":-24.35,"y":0},{"s":3,"x":-21,"y":3.5},{"s":3,"x":-19.65,"y":0},{"s":3,"x":-19.5,"y":-8},{"s":3,"x":-19.35,"y":0},{"s":3,"x":-16,"y":-8},{"s":3,"x":-13.8,"y":0},{"s":3,"x":-12.5,"y":4.3},{"s":3,"x":-11.65,"y":0},{"s":3,"x":-11.5,"y":-8},{"s":3,"x":-11.35,"y":0},{"s":3,"x":-8,"y":3},{"s":3,"x":-7.15,"y":0},{"s":3,"x":-7,"y":-8},{"s":3,"x":-6.85,"y":0},{"s":3,"x":-3,"y":5},{"s":3,"x":-2.15,"y":0},{"s":3,"x":-2,"y":-8},{"s":3,"x":-1.85,"y":0},{"s":3,"x":1,"y":3.5},{"s":3,"x":1.85,"y":0},{"s":3,"x":2,"y":-8},{"s":3,"x":2.15,"y":0},{"s":3,"x":5,"y":6},{"s":3,"x":5.85,"y":0},{"s":3,"x":6,"y":-8},{"s":3,"x":6.15,"y":0},{"s":3,"x":9,"y":4},{"s":3,"x":9.85,"y":0},{"s":3,"x":10,"y":-8},{"s":3,"x":10.15,"y":0},{"s":3,"x":13,"y":6.5},{"s":3,"x":14,"y":4.5},{"s":3,"x":15.7,"y":7.9},{"s":3,"x":16.8,"y":7.2},{"s":3,"x":17.8,"y":10},{"s":3,"x":18.9,"y":16.6},{"s":3,"x":20.5,"y":22.5},{"s":3,"x":21.8,"y":25.5},{"s":3,"x":23.4,"y":27.2},{"s":3,"x":25,"y":26.5},{"s":3,"x":27,"y":22},{"s":3,"x":28.5,"y":17},{"s":3,"x":30,"y":11},{"s":3,"x":31.5,"y":5},{"s":3,"x":32.35,"y":0},{"s":3,"x":32.5,"y":-8},{"s":3,"x":32.65,"y":0},{"s":3,"x":35,"y":-8},{"s":3,"x":36.8,"y":0},{"s":3,"x":38,"y":3},{"s":3,"x":38.85,"y":0},{"s":3,"x":39,"y":-8},{"s":3,"x":39.15,"y":0},{"s":3,"x":41,"y":2.5},{"s":3,"x":42,"y":0},
{"s":4,"x":-29,"y":0},{"s":4,"x":-28,"y":3},{"s":4,"x":-26.65,"y":0},{"s":4,"x":-26.5,"y":-8},{"s":4,"x":-26.35,"y":0},{"s":4,"x":-24.5,"y":-8},{"s":4,"x":-23.3,"y":0},{"s":4,"x":-22,"y":3},{"s":4,"x":-21.15,"y":0},{"s":4,"x":-21,"y":-8},{"s":4,"x":-20.85,"y":0},{"s":4,"x":-19,"y":-8},{"s":4,"x":-17.3,"y":0},{"s":4,"x":-16,"y":3},{"s":4,"x":-15.15,"y":0},{"s":4,"x":-15,"y":-8},{"s":4,"x":-14.85,"y":0},{"s":4,"x":-12,"y":-8},{"s":4,"x":-10.3,"y":0},{"s":4,"x":-9,"y":4},{"s":4,"x":-8.15,"y":0},{"s":4,"x":-8,"y":-8},{"s":4,"x":-7.85,"y":0},{"s":4,"x":-5,"y":-8},{"s":4,"x":-3.3,"y":0},{"s":4,"x":-2,"y":4},{"s":4,"x":-1.15,"y":0},{"s":4,"x":-1,"y":-8},{"s":4,"x":-0.85,"y":0},{"s":4,"x":1,"y":3},{"s":4,"x":1.85,"y":0},{"s":4,"x":2,"y":-8},{"s":4,"x":2.15,"y":0},{"s":4,"x":5,"y":4.5},{"s":4,"x":5.85,"y":0},{"s":4,"x":6,"y":-8},{"s":4,"x":6.15,"y":0},{"s":4,"x":8.5,"y":5},{"s":4,"x":9.35,"y":0},{"s":4,"x":9.5,"y":-8},{"s":4,"x":9.65,"y":0},{"s":4,"x":12,"y":4},{"s":4,"x":12.85,"y":0},{"s":4,"x":13,"y":-8},{"s":4,"x":13.15,"y":0},{"s":4,"x":16,"y":-8},{"s":4,"x":17.8,"y":0},{"s":4,"x":19,"y":3},{"s":4,"x":20.35,"y":0},{"s":4,"x":20.5,"y":-8},{"s":4,"x":20.65,"y":0},{"s":4,"x":23,"y":3},{"s":4,"x":24.35,"y":0},{"s":4,"x":25.2,"y":-8},{"s":4,"x":26.05,"y":0},{"s":4,"x":26.5,"y":1.1},{"s":4,"x":27.3,"y":7},{"s":4,"x":28.6,"y":16.6},{"s":4,"x":30,"y":23.5},{"s":4,"x":31.8,"y":26.7},{"s":4,"x":33.5,"y":26},{"s":4,"x":35.6,"y":20},{"s":4,"x":37,"y":16.5},{"s":4,"x":38.4,"y":12.8},{"s":4,"x":39.5,"y":9.5},{"s":4,"x":40.5,"y":6.3},{"s":4,"x":41.8,"y":2},{"s":4,"x":42.35,"y":0},{"s":4,"x":42.5,"y":-8},{"s":4,"x":42.65,"y":0},{"s":4,"x":44,"y":-8},{"s":4,"x":45.3,"y":0},{"s":4,"x":46.4,"y":2.6},{"s":4,"x":48,"y":0},
{"s":5,"x":-28.2,"y":0},{"s":5,"x":-27,"y":2},{"s":5,"x":-26.15,"y":0},{"s":5,"x":-26,"y":-8},{"s":5,"x":-25.85,"y":0},{"s":5,"x":-23,"y":-8},{"s":5,"x":-21.3,"y":0},{"s":5,"x":-20,"y":2.5},{"s":5,"x":-19.15,"y":0},{"s":5,"x":-19,"y":-8},{"s":5,"x":-18.85,"y":0},{"s":5,"x":-16.5,"y":-8},{"s":5,"x":-15.3,"y":0},{"s":5,"x":-14,"y":3.5},{"s":5,"x":-13.15,"y":0},{"s":5,"x":-13,"y":-8},{"s":5,"x":-12.85,"y":0},{"s":5,"x":-10,"y":-8},{"s":5,"x":-8.2,"y":0},{"s":5,"x":-7,"y":3},{"s":5,"x":-6.15,"y":0},{"s":5,"x":-6,"y":-8},{"s":5,"x":-5.85,"y":0},{"s":5,"x":-3,"y":-8},{"s":5,"x":-1.2,"y":0},{"s":5,"x":0,"y":3},{"s":5,"x":0.85,"y":0},{"s":5,"x":1,"y":-8},{"s":5,"x":1.15,"y":0},{"s":5,"x":2,"y":-8},{"s":5,"x":2.8,"y":0},{"s":5,"x":4,"y":5},{"s":5,"x":4.85,"y":0},{"s":5,"x":5,"y":-8},{"s":5,"x":5.15,"y":0},{"s":5,"x":7.5,"y":-8},{"s":5,"x":8.8,"y":0},{"s":5,"x":10,"y":3.5},{"s":5,"x":10.85,"y":0},{"s":5,"x":11,"y":-8},{"s":5,"x":11.15,"y":0},{"s":5,"x":14,"y":-8},{"s":5,"x":15.8,"y":0},{"s":5,"x":17,"y":3},{"s":5,"x":17.85,"y":0},{"s":5,"x":18,"y":-8},{"s":5,"x":18.15,"y":0},{"s":5,"x":19.8,"y":-8},{"s":5,"x":20.9,"y":0},{"s":5,"x":22,"y":2.5},{"s":5,"x":22.85,"y":0},{"s":5,"x":23,"y":-8},{"s":5,"x":23.15,"y":0},{"s":5,"x":25,"y":-8},{"s":5,"x":26,"y":0},{"s":5,"x":27,"y":2.5},{"s":5,"x":27.85,"y":0},{"s":5,"x":28,"y":-8},{"s":5,"x":28.15,"y":0},{"s":5,"x":30,"y":4},{"s":5,"x":30.85,"y":0},{"s":5,"x":32.3,"y":-8},{"s":5,"x":33.65,"y":0},{"s":5,"x":34.2,"y":3},{"s":5,"x":35,"y":6},{"s":5,"x":36.7,"y":7.6},{"s":5,"x":37.5,"y":12},{"s":5,"x":38.5,"y":19},{"s":5,"x":39.5,"y":23.5},{"s":5,"x":40.8,"y":25.2},{"s":5,"x":42.5,"y":24.5},{"s":5,"x":44.5,"y":21},{"s":5,"x":46.1,"y":17.6},{"s":5,"x":48.2,"y":12},{"s":5,"x":49.9,"y":8.6},{"s":5,"x":51,"y":5},{"s":5,"x":52,"y":2},{"s":5,"x":53,"y":3},{"s":5,"x":54.4,"y":4.6},{"s":5,"x":56,"y":2},{"s":5,"x":56.9,"y":0},
{"s":6,"x":-29.3,"y":0},{"s":6,"x":-28.5,"y":1.5},{"s":6,"x":-27.65,"y":0},{"s":6,"x":-27.5,"y":-8},{"s":6,"x":-27.35,"y":0},{"s":6,"x":-25.5,"y":-8},{"s":6,"x":-24.2,"y":0},{"s":6,"x":-23,"y":3},{"s":6,"x":-22.15,"y":0},{"s":6,"x":-22,"y":-8},{"s":6,"x":-21.85,"y":0},{"s":6,"x":-17,"y":-8},{"s":6,"x":-14.2,"y":0},{"s":6,"x":-13,"y":4},{"s":6,"x":-12.15,"y":0},{"s":6,"x":-12,"y":-8},{"s":6,"x":-11.85,"y":0},{"s":6,"x":-9,"y":3},{"s":6,"x":-8.15,"y":0},{"s":6,"x":-8,"y":-8},{"s":6,"x":-7.85,"y":0},{"s":6,"x":-5,"y":3.5},{"s":6,"x":-4.15,"y":0},{"s":6,"x":-4,"y":-8},{"s":6,"x":-3.85,"y":0},{"s":6,"x":0,"y":-8},{"s":6,"x":1.8,"y":0},{"s":6,"x":3,"y":3},{"s":6,"x":3.85,"y":0},{"s":6,"x":4,"y":-8},{"s":6,"x":4.15,"y":0},{"s":6,"x":7,"y":-8},{"s":6,"x":8.7,"y":0},{"s":6,"x":10,"y":4},{"s":6,"x":10.85,"y":0},{"s":6,"x":11,"y":-8},{"s":6,"x":11.15,"y":0},{"s":6,"x":14,"y":5},{"s":6,"x":14.85,"y":0},{"s":6,"x":15,"y":-8},{"s":6,"x":15.15,"y":0},{"s":6,"x":20,"y":-8},{"s":6,"x":24.7,"y":0},{"s":6,"x":26,"y":3},{"s":6,"x":26.85,"y":0},{"s":6,"x":27,"y":-8},{"s":6,"x":27.15,"y":0},{"s":6,"x":30,"y":-8},{"s":6,"x":31.7,"y":0},{"s":6,"x":33,"y":3},{"s":6,"x":33.85,"y":0},{"s":6,"x":34,"y":-8},{"s":6,"x":34.15,"y":0},{"s":6,"x":36,"y":-8},{"s":6,"x":37.8,"y":0},{"s":6,"x":39,"y":3},{"s":6,"x":39.85,"y":0},{"s":6,"x":41,"y":-8},{"s":6,"x":42.05,"y":0},{"s":6,"x":42.2,"y":1},{"s":6,"x":43.5,"y":6},{"s":6,"x":45,"y":11},{"s":6,"x":46.1,"y":14.7},{"s":6,"x":47.5,"y":18.5},{"s":6,"x":49.5,"y":22.5},{"s":6,"x":51.7,"y":23.8},{"s":6,"x":53.5,"y":23.3},{"s":6,"x":56,"y":20},{"s":6,"x":59.3,"y":14.7},{"s":6,"x":62.1,"y":8.1},{"s":6,"x":63.5,"y":4},{"s":6,"x":65,"y":0}
]
},
"vconcat": [
{
"width": 473, "height": 246,
"encoding": {
  "x": {"field": "x", "type": "quantitative", "scale": {"domain": [-30, 70], "nice": false},
   "axis": {"title": "θ [degrees]", "values": [-30,-20,-10,0,10,20,30,40,50,60,70], "labelExpr": "'' + datum.value", "grid": true, "gridColor": "#d9d9d9", "domainColor": "#d9d9d9", "ticks": false, "tickSize": 0, "labelPadding": 12, "labelFontSize": 12, "labelColor": "#595959", "labelFlush": false, "titleFontSize": 15, "titleFontWeight": "normal", "titleColor": "#595959", "titlePadding": 8}},
  "y": {"field": "y", "type": "quantitative", "scale": {"domain": [0, 35], "nice": false},
   "axis": {"title": "Realized gain [dBi]", "values": [0,5,10,15,20,25,30,35], "grid": true, "gridColor": "#d9d9d9", "domain": false, "ticks": false, "tickSize": 0, "labelPadding": 10, "labelFontSize": 12, "labelColor": "#595959", "titleFontSize": 15, "titleFontWeight": "normal", "titleColor": "#595959", "titlePadding": 6}},
  "color": {"datum": "Simulated", "type": "nominal", "scale": {"domain": ["Simulated", "Measured"], "range": ["#4472C4", "#ED7D31"]},
   "legend": {"title": null, "orient": "none", "legendX": 415, "legendY": 14, "symbolType": "stroke", "symbolSize": 441, "symbolStrokeWidth": 2, "labelFontSize": 12, "labelColor": "#404040", "labelOffset": 6, "rowPadding": 9}},
  "detail": {"field": "s", "type": "nominal"}
},
"layer": [
{"data": {"values": [{"x": 0}]}, "mark": {"type": "rule", "color": "#bfbfbf", "strokeWidth": 1},
 "encoding": {"y": {"value": 0}, "y2": {"value": 246}, "color": {"value": "#bfbfbf"}, "detail": {"value": null}}},
{"data": {"name": "tS"}, "mark": {"type": "line", "interpolate": "monotone", "strokeWidth": 2, "clip": true}},
{"data": {"name": "tM"}, "mark": {"type": "line", "interpolate": "monotone", "strokeWidth": 2, "clip": true},
 "encoding": {"color": {"datum": "Measured", "type": "nominal", "scale": {"domain": ["Simulated", "Measured"], "range": ["#4472C4", "#ED7D31"]},
   "legend": {"title": null, "orient": "none", "legendX": 415, "legendY": 14, "symbolType": "stroke", "symbolSize": 441, "symbolStrokeWidth": 2, "labelFontSize": 12, "labelColor": "#404040", "labelOffset": 6, "rowPadding": 9}}}}
]
},
{
"width": 478, "height": 248,
"encoding": {
  "x": {"field": "x", "type": "quantitative", "scale": {"domain": [-30, 70], "nice": false},
   "axis": {"title": "θ [degrees]", "values": [-30,-20,-10,0,10,20,30,40,50,60,70], "labelExpr": "'' + datum.value", "grid": true, "gridColor": "#d9d9d9", "domainColor": "#d9d9d9", "ticks": false, "tickSize": 0, "labelPadding": 12, "labelFontSize": 12, "labelColor": "#595959", "labelFlush": false, "titleFontSize": 15, "titleFontWeight": "normal", "titleColor": "#595959", "titlePadding": 8}},
  "y": {"field": "y", "type": "quantitative", "scale": {"domain": [0, 35], "nice": false},
   "axis": {"title": "Realized gain [dBi]", "values": [0,5,10,15,20,25,30,35], "grid": true, "gridColor": "#d9d9d9", "domain": false, "ticks": false, "tickSize": 0, "labelPadding": 10, "labelFontSize": 12, "labelColor": "#595959", "titleFontSize": 15, "titleFontWeight": "normal", "titleColor": "#595959", "titlePadding": 6}},
  "color": {"datum": "Simulated", "type": "nominal", "scale": {"domain": ["Simulated", "Measured"], "range": ["#4472C4", "#ED7D31"]},
   "legend": {"title": null, "orient": "none", "legendX": 413, "legendY": 14, "symbolType": "stroke", "symbolSize": 441, "symbolStrokeWidth": 2, "labelFontSize": 12, "labelColor": "#404040", "labelOffset": 6, "rowPadding": 9}},
  "detail": {"field": "s", "type": "nominal"}
},
"layer": [
{"data": {"values": [{"x": 0}]}, "mark": {"type": "rule", "color": "#bfbfbf", "strokeWidth": 1},
 "encoding": {"y": {"value": 0}, "y2": {"value": 248}, "color": {"value": "#bfbfbf"}, "detail": {"value": null}}},
{"data": {"name": "bS"}, "mark": {"type": "line", "interpolate": "monotone", "strokeWidth": 2, "clip": true}},
{"data": {"name": "bM"}, "mark": {"type": "line", "interpolate": "monotone", "strokeWidth": 2, "clip": true},
 "encoding": {"color": {"datum": "Measured", "type": "nominal", "scale": {"domain": ["Simulated", "Measured"], "range": ["#4472C4", "#ED7D31"]},
   "legend": {"title": null, "orient": "none", "legendX": 413, "legendY": 14, "symbolType": "stroke", "symbolSize": 441, "symbolStrokeWidth": 2, "labelFontSize": 12, "labelColor": "#404040", "labelOffset": 6, "rowPadding": 9}}}}
]
}
]
}
